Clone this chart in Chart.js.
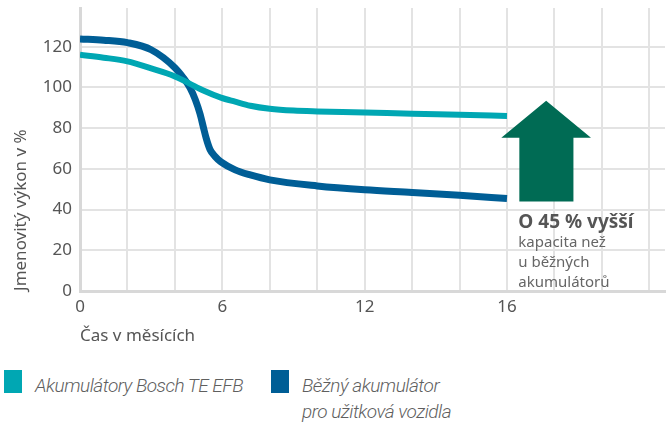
<!DOCTYPE html>
<html>
<head>
<meta charset="utf-8">
<script src="https://cdn.jsdelivr.net/npm/chart.js@4/dist/chart.umd.min.js"></script>
<style>
    body { margin: 0; background: #fff; }
    #wrap { position: relative; width: 671px; height: 424px; }
    #box { position: absolute; left: 0; top: 0; width: 671px; height: 350px; }
    .leg { position: absolute; font-family: Roboto, sans-serif; font-style: italic; font-weight: 300;
           font-size: 19px; line-height: 26px; color: #5f5f5f; letter-spacing: -0.5px; }
    .sq { position: absolute; width: 18px; height: 23px; }
</style>
</head>
<body>
<div id="wrap">
    <div id="box"><canvas id="myChart"></canvas></div>
    <div class="sq" style="left:4px; top:370px; background:#00a7b3;"></div>
    <div class="leg" style="left:35px; top:373px;">Akumulátory Bosch TE EFB</div>
    <div class="sq" style="left:271px; top:370px; background:#005e96;"></div>
    <div class="leg" style="left:302px; top:373px;">Běžný akumulátor<br>pro užitková vozidla</div>
</div>
<script>
// one label per vertical grid line
const xLabels = ['0', '', '', '6', '', '', '12', '', '', '16', '', '', ''];
const yTicks = [0, 20, 40, 60, 80, 100, 120];

const boschX = [0, 0.5, 1, 1.5, 2, 2.3, 2.6, 2.97, 3.27, 3.59, 4, 4.5, 5, 6, 7, 8, 9];
const boschY = [116, 114.6, 112.8, 109.3, 105.4, 102, 98.5, 95, 93, 91, 89.5, 88.6, 88.2, 87.7, 87, 86.6, 86];

const beznyX = [0, 0.5, 1, 1.5, 2, 2.17, 2.32, 2.43, 2.53, 2.6, 2.66, 2.74, 2.85, 2.97, 3.27, 3.59, 4, 5, 6, 7, 8, 9];
const beznyY = [123.8, 123.2, 122, 118.5, 109.7, 105, 99.8, 94, 87, 80.5, 75, 69.5, 66, 63.4, 59.5, 57, 54.6, 51.6, 49.7, 48.4, 47, 45.4];

// arrow in chart units
const arrow = { left: 8.88, right: 10.77, shaftL: 9.26, shaftR: 10.4, tip: 93.5, wing: 75.3, base: 44 };

const toPoints = (xs, ys) => xs.map((x, i) => ({ x: x, y: ys[i] }));

const arrowPlugin = {
    id: 'arrowNote',
    afterDatasetsDraw(chart) {
        const ctx = chart.ctx;
        const xs = chart.scales.x, ys = chart.scales.y;
        const px = v => xs.getPixelForValue(v);
        const py = v => ys.getPixelForValue(v);
        ctx.save();
        ctx.fillStyle = '#006b54';
        ctx.beginPath();
        ctx.moveTo(px((arrow.left + arrow.right) / 2), py(arrow.tip));
        ctx.lineTo(px(arrow.right), py(arrow.wing));
        ctx.lineTo(px(arrow.shaftR), py(arrow.wing));
        ctx.lineTo(px(arrow.shaftR), py(arrow.base));
        ctx.lineTo(px(arrow.shaftL), py(arrow.base));
        ctx.lineTo(px(arrow.shaftL), py(arrow.wing));
        ctx.lineTo(px(arrow.left), py(arrow.wing));
        ctx.closePath();
        ctx.fill();

        const tx = px(arrow.shaftL) - 1;
        const ty = py(arrow.base);
        ctx.textAlign = 'left';
        ctx.textBaseline = 'alphabetic';
        ctx.fillStyle = '#555';
        ctx.font = 'bold 19px "Noto Sans", sans-serif';
        ctx.fillText('O 45 % vyšší', tx, ty + 27);
        ctx.fillStyle = '#666';
        ctx.font = '15px "Noto Sans", sans-serif';
        ctx.fillText('kapacita než', tx, ty + 46);
        ctx.fillText('u běžných', tx, ty + 66);
        ctx.fillText('akumulátorů', tx, ty + 86);
        ctx.restore();
    }
};

const data = {
    datasets: [
        {
            label: 'Akumulátory Bosch TE EFB',
            borderColor: '#00a7b3',
            backgroundColor: '#00a7b3',
            borderWidth: 6,
            data: toPoints(boschX, boschY),
        },
        {
            label: 'Běžný akumulátor pro užitková vozidla',
            borderColor: '#005e96',
            backgroundColor: '#005e96',
            borderWidth: 7,
            data: toPoints(beznyX, beznyY),
        }
    ]
};

const config = {
    type: 'line',
    data: data,
    options: {
        responsive: true,
        maintainAspectRatio: false,
        animation: false,
        layout: { padding: { left: 0, right: 6, top: 0, bottom: 0 } },
        elements: {
            point: { radius: 0 },
            line: { cubicInterpolationMode: 'monotone', borderCapStyle: 'butt' }
        },
        plugins: {
            legend: { display: false },
            tooltip: { enabled: false }
        },
        scales: {
            x: {
                type: 'linear',
                min: 0,
                max: 12.33,
                afterFit: s => { s.height = 59; },
                grid: { color: '#e3e3e3', lineWidth: 2, drawTicks: false },
                border: { color: '#d8d8d8', width: 3 },
                ticks: {
                    stepSize: 1,
                    includeBounds: false,
                    autoSkip: false,
                    maxRotation: 0,
                    padding: 6,
                    color: '#555',
                    font: { family: '"Noto Sans", sans-serif', size: 17 },
                    callback: v => xLabels[v] || ''
                },
                title: {
                    display: true,
                    text: 'Čas v měsících',
                    align: 'start',
                    color: '#555',
                    padding: { top: 0, bottom: 4 },
                    font: { family: '"Noto Sans", sans-serif', size: 17 }
                }
            },
            y: {
                min: 0,
                max: 139,
                afterFit: s => { s.width = 80; s.paddingTop = 8; },
                afterBuildTicks: s => { s.ticks = yTicks.map(v => ({ value: v })); },
                grid: { color: '#e3e3e3', lineWidth: 2, drawTicks: false },
                border: { color: '#d8d8d8', width: 3 },
                ticks: {
                    padding: 8,
                    color: '#555',
                    font: { family: '"Noto Sans", sans-serif', size: 17, lineHeight: 1 }
                },
                title: {
                    display: true,
                    text: 'Jmenovitý výkon v %',
                    align: 'start',
                    color: '#555',
                    padding: { top: 11, bottom: 0 },
                    font: { family: '"Noto Sans", sans-serif', size: 17 }
                }
            }
        }
    },
    plugins: [arrowPlugin]
};

let myChart = new Chart(
    document.getElementById('myChart'),
    config
);
</script>
</body>
</html>
